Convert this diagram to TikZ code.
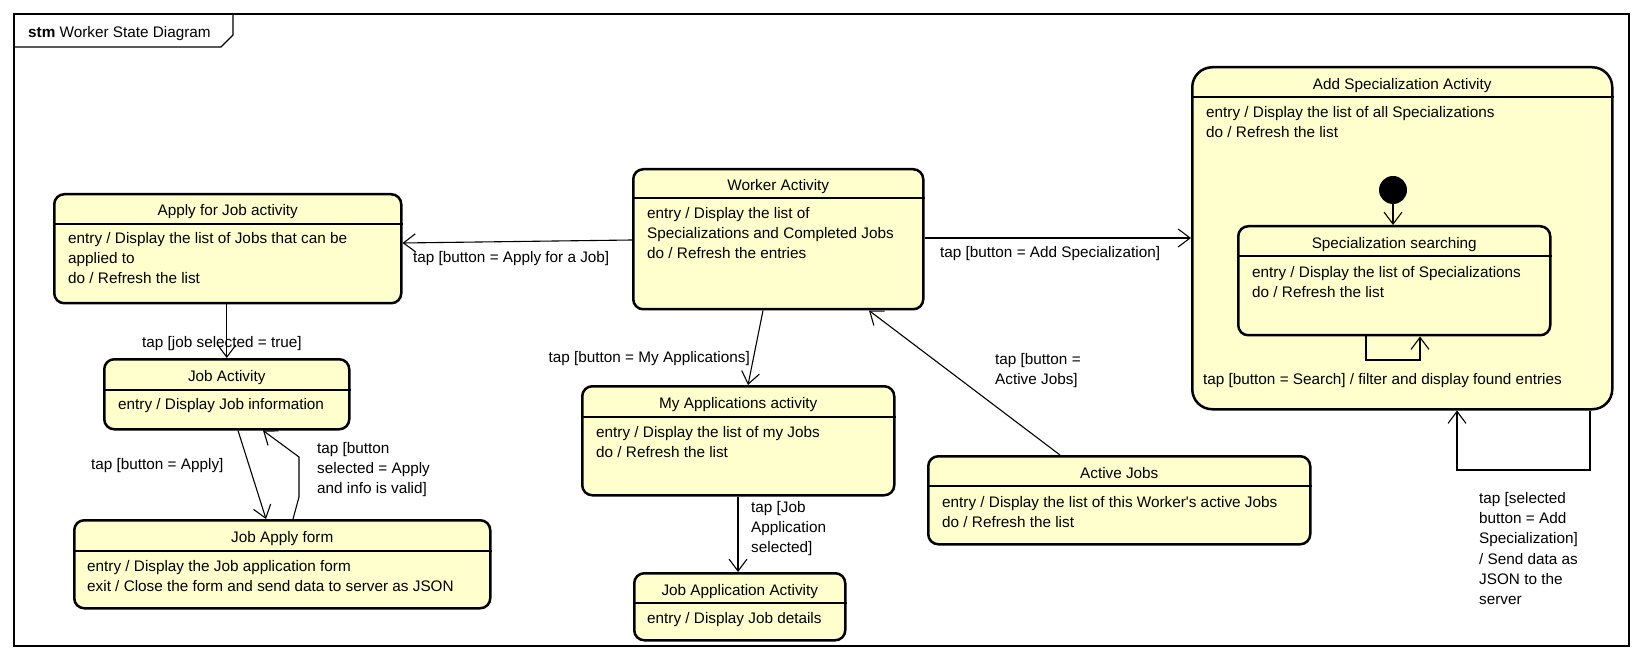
\documentclass[tikz,border=0pt]{standalone}
\usepackage{fontspec}
\setmainfont{Liberation Sans}
\usetikzlibrary{arrows.meta}
\definecolor{stateyellow}{RGB}{255,255,206}
\tikzset{
  stbox/.style={draw, line width=2.5pt, fill=stateyellow, rounded corners=10pt, inner sep=0pt, anchor=north west},
  divider/.style={line width=1.2pt},
  stitle/.style={inner sep=0pt, text height=11pt, text depth=0pt},
  sbody/.style={inner sep=0pt, anchor=north west, align=left},
  trans/.style={line width=1.1pt, -{Straight Barb[length=12pt,width=18pt,line width=1.1pt]}},
  lbl/.style={inner sep=0pt, anchor=north west, align=left}
}
\begin{document}
\begin{tikzpicture}[x=1pt, y=-1pt, font=\fontsize{15.3}{20.3}\selectfont]
    \useasboundingbox (0,0) rectangle (1644,660);
    % frame and tab
    \draw[line width=1.2pt] (14,14) rectangle (1629,646);
    \draw[line width=1.2pt] (14,47) -- (221,47) -- (233,35) -- (233,14);
    \node[stitle, anchor=west] (tab) at (28,32) {\textbf{stm} Worker State Diagram};

    % states
    \node[stbox, minimum width=347, minimum height=109] (apply) at (53,193) {};
    \node[stbox, minimum width=290, minimum height=140] (worker) at (632,168) {};
    \node[stbox, minimum width=420, minimum height=342, rounded corners=20pt] (addspec) at (1191,66) {};
    \node[stbox, minimum width=312, minimum height=109] (search) at (1237,225) {};
    \node[stbox, minimum width=245, minimum height=70] (jobact) at (103,358) {};
    \node[stbox, minimum width=416, minimum height=88] (jobform) at (73,519) {};
    \node[stbox, minimum width=312, minimum height=109] (myapps) at (581,385) {};
    \node[stbox, minimum width=211, minimum height=67] (appact) at (633,572) {};
    \node[stbox, minimum width=382, minimum height=88] (active) at (927,455) {};
    \node[circle, fill=black, minimum size=28pt, inner sep=0pt] (init) at (1393,190) {};

    % compartment lines
    \foreach \n/\y in {apply/224, worker/198, addspec/97, search/256, jobact/390,
                       jobform/551, myapps/417, appact/603, active/486}
        \draw[divider] (\n.west |- 0,\y) -- (\n.east |- 0,\y);

    % titles
    \node[stitle] (applyT) at (apply.north |- 0,210) {Apply for Job activity};
    \node[stitle] (workerT) at (worker.north |- 0,185) {Worker Activity};
    \node[stitle] (addspecT) at (addspec.north |- 0,84) {Add Specialization Activity};
    \node[stitle] (searchT) at (search.north |- 0,243) {Specialization searching};
    \node[stitle] (jobactT) at (jobact.north |- 0,376) {Job Activity};
    \node[stitle] (jobformT) at (jobform.north |- 0,537) {Job Apply form};
    \node[stitle] (myappsT) at (myapps.north |- 0,403) {My Applications activity};
    \node[stitle] (appactT) at (appact.north |- 0,590) {Job Application Activity};
    \node[stitle] (activeT) at (active.north |- 0,473) {Active Jobs};

    % internal activities
    \node[sbody] (applyB) at (68,232) {entry / Display the list of Jobs that can be\\applied to\\do / Refresh the list};
    \node[sbody] (workerB) at (647,207) {entry / Display the list of\\Specializations and Completed Jobs\\do / Refresh the entries};
    \node[sbody] (addspecB) at (1206,106) {entry / Display the list of all Specializations\\do / Refresh the list};
    \node[sbody] (searchB) at (1252,266) {entry / Display the list of Specializations\\do / Refresh the list};
    \node[sbody] (jobactB) at (118,398) {entry / Display Job information};
    \node[sbody] (jobformB) at (87,560) {entry / Display the Job application form\\exit / Close the form and send data to server as JSON};
    \node[sbody] (myappsB) at (596,426) {entry / Display the list of my Jobs\\do / Refresh the list};
    \node[sbody] (appactB) at (647,612) {entry / Display Job details};
    \node[sbody] (activeB) at (942,496) {entry / Display the list of this Worker\textquotesingle s active Jobs\\do / Refresh the list};

    % transitions
    \draw[trans] (worker.west |- 0,240) -- (apply.east |- 0,243);
    \draw[trans] (worker.east |- 0,238) -- (addspec.west |- 0,238);
    \draw[trans] (apply.south -| jobact.north) -- (jobact.north);
    \draw[trans] (jobact.south -| 238,0) -- (jobform.north -| 266,0);
    \draw[trans] (jobform.north -| 293,0) -- (299,497) -- (299,457) -- (jobact.south -| 263,0);
    \draw[trans] (worker.south -| 763,0) -- (myapps.north -| 748,0);
    \draw[trans] (myapps.south -| 738,0) -- (appact.north -| 738,0);
    \draw[trans] (active.north -| 1060,0) -- (worker.south -| 869,0);
    \draw[trans] (init) -- (search.north -| init);
    \draw[trans] (search.south -| 1366,0) -- (1366,360) -- (1420,360) -- (search.south -| 1420,0);
    \draw[trans] (addspec.south -| 1590,0) -- (1590,470) -- (1457,470) -- (addspec.south -| 1457,0);

    % transition labels
    \node[lbl] (l1) at (413,251) {tap [button = Apply for a Job]};
    \node[lbl] (l2) at (940,246) {tap [button = Add Specialization]};
    \node[lbl] (l3) at (142,336) {tap [job selected = true]};
    \node[lbl] (l4) at (91,458) {tap [button = Apply]};
    \node[lbl] (l5) at (317,442) {tap [button\\selected = Apply\\and info is valid]};
    \node[lbl, anchor=north east] (l6) at (750,351) {tap [button = My Applications]};
    \node[lbl] (l7) at (751,501) {tap [Job\\Application\\selected]};
    \node[lbl] (l8) at (995,353) {tap [button =\\Active Jobs]};
    \node[lbl] (l9) at (1203,373) {tap [button = Search] / filter and display found entries};
    \node[lbl] (l10) at (1479,492) {tap [selected\\button = Add\\Specialization]\\/ Send data as\\JSON to the\\server};
\end{tikzpicture}
\end{document}
